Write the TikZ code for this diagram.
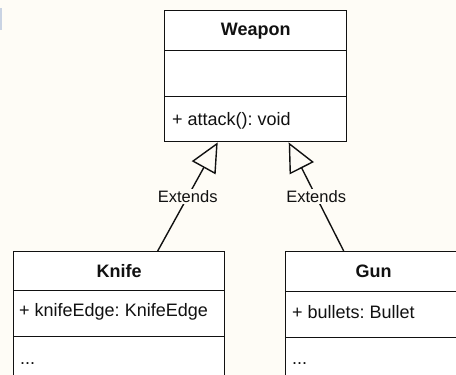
\documentclass[tikz,border=0pt]{standalone}
\usepackage{fontspec}
\setmainfont{Liberation Sans}
\usetikzlibrary{arrows.meta}
\frenchspacing
\definecolor{bg}{HTML}{FEFCF6}
\definecolor{ln}{HTML}{111111}
\definecolor{edgemark}{HTML}{C9D3E3}
\tikzset{
  comp/.style={draw=ln, line width=1.4pt, fill=white, inner sep=0pt, anchor=north west},
  title/.style={font=\fontsize{18}{21}\selectfont\bfseries, text=ln, inner sep=0pt},
  member/.style={font=\fontsize{18}{21}\selectfont, text=ln, inner sep=0pt, anchor=west},
  extends/.style={draw=ln, line width=1.4pt, -{Triangle[open, length=29pt, width=27pt, line width=1.4pt]}},
  lbl/.style={font=\fontsize{16.5}{19}\selectfont, text=ln, fill=bg, inner sep=1.5pt}
}
\begin{document}
\begin{tikzpicture}[x=1pt, y=-1pt]
\useasboundingbox (0,0) rectangle (456,375);
\clip (0,0) rectangle (456,375);
\fill[bg] (0,0) rectangle (456,375);
\fill[edgemark] (0,8) rectangle (2,30);
% Weapon
\node[comp, minimum width=182pt, minimum height=40pt] (wH) at (164,10) {};
\node[comp, minimum width=182pt, minimum height=46pt] (wA) at (164,50) {};
\node[comp, minimum width=182pt, minimum height=45pt] (wB) at (164,96) {};
\node[title] (wT) at (wH.center) {Weapon};
\node[member] (wM) at (172,121) {+ attack(): void};
% Knife
\node[comp, minimum width=211pt, minimum height=39pt] (kH) at (13,251) {};
\node[comp, minimum width=211pt, minimum height=46pt] (kA) at (13,290) {};
\node[comp, minimum width=211pt, minimum height=50pt] (kB) at (13,336) {};
\node[title] (kT) at (kH.center) {Knife};
\node[member] (kF) at (19,312) {+ knifeEdge: KnifeEdge};
\node[member] (kM) at (20,364) {...};
% Gun
\node[comp, minimum width=176pt, minimum height=40pt] (gH) at (285,251) {};
\node[comp, minimum width=176pt, minimum height=46pt] (gA) at (285,291) {};
\node[comp, minimum width=176pt, minimum height=50pt] (gB) at (285,337) {};
\node[title] (gT) at (gH.center) {Gun};
\node[member] (gF) at (292,312) {+ bullets: Bullet};
\node[member] (gM) at (292,364) {...};
% Connectors
\draw[extends] ([xshift=38.5pt]kH.north) -- node[lbl] {Extends} ([xshift=-38pt]wB.south);
\draw[extends] ([xshift=-30pt]gH.north) -- node[lbl] {Extends} ([xshift=33pt]wB.south);
\end{tikzpicture}
\end{document}
